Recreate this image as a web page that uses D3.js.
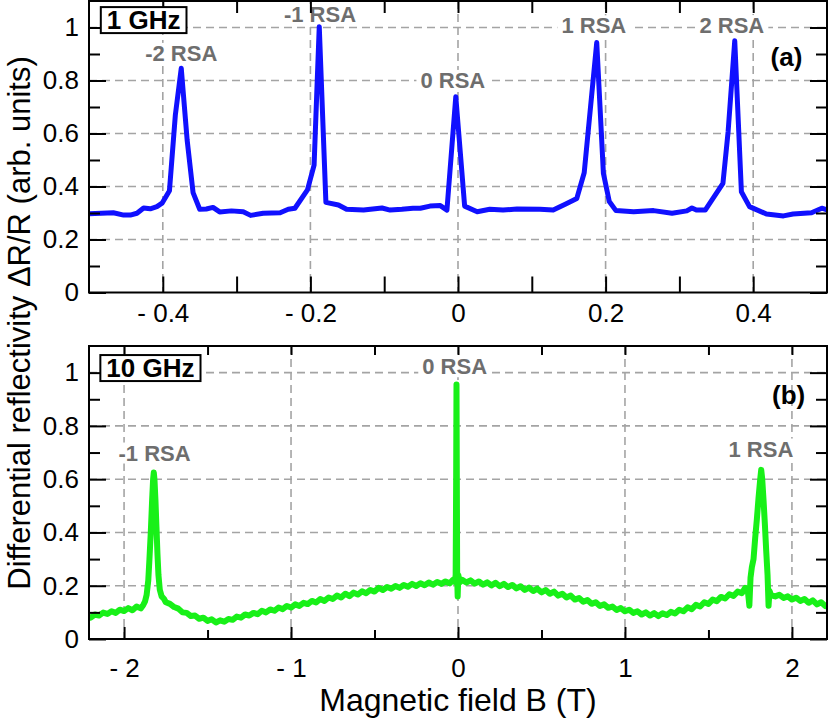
<!DOCTYPE html>
<html><head><meta charset="utf-8">
<script src="https://cdn.jsdelivr.net/npm/d3@7"></script>
<style>
body{margin:0;background:#fff}
svg{display:block}
text{font-family:"Liberation Sans",Arial,Helvetica,sans-serif}
</style>
</head><body>
<svg id="c" width="830" height="725"></svg>
<script>
// ---------- DATA ----------
// Panel (a): 1 GHz, field B (T) and dR/R
const topB = [-0.501,-0.467,-0.453,-0.444,-0.435,-0.426,-0.417,-0.408,-0.401,-0.391,-0.383,-0.375,-0.367,-0.359,-0.350,-0.341,-0.332,-0.323,-0.307,-0.291,-0.281,-0.264,-0.241,-0.230,-0.221,-0.204,-0.195,-0.188,-0.179,-0.162,-0.151,-0.128,-0.103,-0.092,-0.076,-0.061,-0.051,-0.038,-0.024,-0.015,-0.003,0.009,0.026,0.043,0.061,0.080,0.111,0.129,0.146,0.161,0.171,0.188,0.197,0.205,0.214,0.238,0.265,0.290,0.310,0.317,0.323,0.335,0.359,0.366,0.375,0.384,0.395,0.418,0.441,0.454,0.479,0.493,0.501];
const topR = [0.297,0.301,0.292,0.292,0.299,0.319,0.316,0.324,0.337,0.384,0.670,0.846,0.575,0.377,0.314,0.315,0.321,0.304,0.308,0.305,0.291,0.299,0.301,0.314,0.318,0.387,0.481,1.003,0.340,0.330,0.314,0.311,0.319,0.311,0.314,0.318,0.318,0.326,0.328,0.311,0.739,0.326,0.305,0.314,0.311,0.315,0.314,0.311,0.334,0.355,0.452,0.943,0.450,0.343,0.309,0.305,0.309,0.299,0.308,0.319,0.311,0.311,0.412,0.607,0.950,0.380,0.324,0.296,0.289,0.296,0.301,0.318,0.311];

// Panel (b): 10 GHz
const botB = [-2.200,-2.175,-2.150,-2.125,-2.100,-2.075,-2.050,-2.025,-2.000,-1.975,-1.950,-1.925,-1.900,-1.885,-1.875,-1.865,-1.855,-1.848,-1.840,-1.832,-1.826,-1.822,-1.818,-1.812,-1.806,-1.800,-1.794,-1.786,-1.775,-1.760,-1.750,-1.725,-1.700,-1.675,-1.650,-1.625,-1.600,-1.575,-1.550,-1.525,-1.500,-1.475,-1.450,-1.425,-1.400,-1.375,-1.350,-1.325,-1.300,-1.275,-1.250,-1.225,-1.200,-1.175,-1.150,-1.125,-1.100,-1.075,-1.050,-1.025,-1.000,-0.975,-0.950,-0.925,-0.900,-0.875,-0.850,-0.825,-0.800,-0.775,-0.750,-0.725,-0.700,-0.675,-0.650,-0.625,-0.600,-0.575,-0.550,-0.525,-0.500,-0.475,-0.450,-0.425,-0.400,-0.375,-0.350,-0.325,-0.300,-0.275,-0.250,-0.225,-0.200,-0.175,-0.150,-0.125,-0.100,-0.075,-0.050,-0.030,-0.020,-0.014,-0.011,-0.009,-0.007,-0.005,-0.002,0.002,0.010,0.025,0.050,0.075,0.100,0.125,0.150,0.175,0.200,0.225,0.250,0.275,0.300,0.325,0.350,0.375,0.400,0.425,0.450,0.475,0.500,0.525,0.550,0.575,0.600,0.625,0.650,0.675,0.700,0.725,0.750,0.775,0.800,0.825,0.850,0.875,0.900,0.925,0.950,0.975,1.000,1.025,1.050,1.075,1.100,1.125,1.150,1.175,1.200,1.225,1.250,1.275,1.300,1.325,1.350,1.375,1.400,1.425,1.450,1.475,1.500,1.525,1.550,1.575,1.600,1.625,1.650,1.675,1.700,1.720,1.735,1.745,1.752,1.760,1.770,1.780,1.790,1.800,1.810,1.816,1.822,1.830,1.838,1.846,1.854,1.860,1.866,1.875,1.900,1.925,1.950,1.975,2.000,2.025,2.050,2.075,2.100,2.125,2.150,2.175,2.200];
const botR = [0.080,0.092,0.088,0.099,0.094,0.104,0.098,0.110,0.105,0.116,0.108,0.122,0.115,0.128,0.140,0.165,0.220,0.300,0.400,0.520,0.600,0.625,0.600,0.520,0.420,0.320,0.240,0.185,0.160,0.150,0.138,0.132,0.120,0.114,0.100,0.098,0.086,0.088,0.076,0.080,0.068,0.074,0.062,0.070,0.065,0.075,0.072,0.084,0.080,0.092,0.088,0.098,0.093,0.106,0.100,0.111,0.106,0.118,0.112,0.124,0.118,0.130,0.124,0.136,0.131,0.143,0.137,0.150,0.143,0.156,0.150,0.163,0.156,0.170,0.161,0.174,0.167,0.179,0.172,0.184,0.178,0.192,0.184,0.195,0.189,0.199,0.192,0.203,0.196,0.207,0.199,0.209,0.202,0.212,0.204,0.214,0.207,0.216,0.209,0.222,0.215,0.240,0.600,0.955,0.600,0.230,0.160,0.240,0.212,0.222,0.212,0.220,0.208,0.216,0.204,0.213,0.201,0.211,0.198,0.207,0.195,0.203,0.190,0.198,0.184,0.193,0.180,0.189,0.175,0.184,0.170,0.178,0.163,0.170,0.156,0.163,0.148,0.154,0.140,0.146,0.132,0.138,0.124,0.130,0.117,0.122,0.109,0.116,0.104,0.110,0.098,0.104,0.092,0.100,0.088,0.097,0.086,0.097,0.090,0.102,0.096,0.110,0.104,0.119,0.112,0.128,0.122,0.138,0.132,0.148,0.142,0.158,0.152,0.168,0.162,0.178,0.172,0.192,0.186,0.125,0.230,0.270,0.300,0.380,0.450,0.530,0.600,0.635,0.600,0.520,0.430,0.330,0.240,0.125,0.180,0.165,0.160,0.166,0.154,0.160,0.148,0.155,0.143,0.150,0.136,0.145,0.130,0.138,0.124];

// Ticks
const yTicks = [0, 0.2, 0.4, 0.6, 0.8, 1];
const yTickLabels = ["0", "0.2", "0.4", "0.6", "0.8", "1"];
const yMinor = [0.1, 0.3, 0.5, 0.7, 0.9];
const topXTicks = [-0.4, -0.2, 0, 0.2, 0.4];
const topXTickLabels = ["- 0.4", "- 0.2", "0", "0.2", "0.4"];
const topXMinor = [-0.3, -0.1, 0.1, 0.3];
const botXTicks = [-2, -1, 0, 1, 2];
const botXTickLabels = ["- 2", "- 1", "0", "1", "2"];
const botXMinor = [-1.5, -0.5, 0.5, 1.5];

// Annotations (data coordinates: field, level)
const topAnnText = ["-2 RSA", "-1 RSA", "0 RSA", "1 RSA", "2 RSA"];
const topAnnB = [-0.375, -0.187, -0.007, 0.184, 0.371];
const topAnnV = [0.874, 1.021, 0.772, 0.978, 0.979];
const botAnnText = ["-1 RSA", "0 RSA", "1 RSA"];
const botAnnB = [-1.817, -0.02, 1.814];
const botAnnV = [0.670, 0.994, 0.685];

// ---------- DRAW ----------
const svg = d3.select("#c");
const L = 89, R = 827;
const gridColor = "#a4a4a4";
const annColor = "#6e6e6e";

function panel(cfg) {
  const x = d3.scaleLinear().domain(cfg.xd).range([L, R]);
  const y = d3.scaleLinear().domain([0, 1.1]).range([cfg.bottom, cfg.top]);
  const g = svg.append("g");
  const id = "clip" + cfg.name;
  svg.append("clipPath").attr("id", id).append("rect")
    .attr("x", L).attr("y", cfg.top).attr("width", R - L).attr("height", cfg.bottom - cfg.top);

  // grid
  const grid = g.append("g").attr("stroke", gridColor).attr("stroke-width", 1.6).attr("stroke-dasharray", "8,5");
  grid.selectAll(".gx").data(cfg.xt).join("line")
    .attr("x1", d => x(d)).attr("x2", d => x(d)).attr("y1", cfg.top).attr("y2", cfg.bottom);
  grid.selectAll(".gy").data(yTicks.filter(d => d > 0)).join("line")
    .attr("x1", L).attr("x2", R).attr("y1", d => y(d)).attr("y2", d => y(d));

  // annotations with white backgrounds (drawn over the grid)
  const ann = g.append("g");
  cfg.annText.forEach((t, i) => {
    const tx = ann.append("text").attr("x", x(cfg.annB[i])).attr("y", y(cfg.annV[i]))
      .attr("text-anchor", "middle").attr("font-weight", "bold").attr("font-size", 22)
      .attr("fill", annColor).text(t);
    const bb = tx.node().getBBox();
    ann.insert("rect", "text").attr("x", bb.x - 4).attr("y", bb.y + 2).attr("width", bb.width + 8).attr("height", bb.height - 4).attr("fill", "#fff");
  });

  // data line
  const line = d3.line().x(d => x(d[0])).y(d => y(d[1]));
  g.append("path").datum(d3.zip(cfg.b, cfg.r)).attr("clip-path", `url(#${id})`)
    .attr("d", line).attr("fill", "none").attr("stroke", cfg.color)
    .attr("stroke-width", cfg.sw).attr("stroke-linejoin", "round").attr("stroke-linecap", "round");

  // axes
  const tickStyle = s => {
    s.select(".domain").remove();
    s.selectAll(".tick line").attr("stroke", "#000").attr("stroke-width", 2);
    s.selectAll("text").attr("font-size", 26).attr("fill", "#000")
      .attr("font-family", '"Liberation Sans",Arial,Helvetica,sans-serif');
    s.attr("font-family", null).attr("font-size", null);
  };
  g.append("g").attr("transform", `translate(0,${cfg.bottom})`)
    .call(d3.axisBottom(x).tickValues(cfg.xt).tickFormat((d, i) => cfg.xl[i])
      .tickSizeInner(-cfg.xMaj).tickSizeOuter(0).tickPadding(cfg.xPad)).call(tickStyle);
  g.append("g").attr("transform", `translate(0,${cfg.bottom})`)
    .call(d3.axisBottom(x).tickValues(cfg.xm).tickFormat("").tickSizeInner(-cfg.xMin).tickSizeOuter(0)).call(tickStyle);
  g.append("g").attr("transform", `translate(0,${cfg.top})`)
    .call(d3.axisTop(x).tickValues(cfg.xt).tickFormat("").tickSizeInner(-cfg.xMajT).tickSizeOuter(0)).call(tickStyle);
  g.append("g").attr("transform", `translate(0,${cfg.top})`)
    .call(d3.axisTop(x).tickValues(cfg.xm).tickFormat("").tickSizeInner(-cfg.xMinT).tickSizeOuter(0)).call(tickStyle);
  g.append("g").attr("transform", `translate(${L},0)`)
    .call(d3.axisLeft(y).tickValues(yTicks).tickFormat((d, i) => yTickLabels[i])
      .tickSizeInner(-17).tickSizeOuter(0).tickPadding(10)).call(tickStyle);
  g.append("g").attr("transform", `translate(${L},0)`)
    .call(d3.axisLeft(y).tickValues(yMinor).tickFormat("").tickSizeInner(-11).tickSizeOuter(0)).call(tickStyle);
  g.append("g").attr("transform", `translate(${R},0)`)
    .call(d3.axisRight(y).tickValues(yTicks).tickFormat("").tickSizeInner(-17).tickSizeOuter(0)).call(tickStyle);
  g.append("g").attr("transform", `translate(${R},0)`)
    .call(d3.axisRight(y).tickValues(yMinor).tickFormat("").tickSizeInner(-11).tickSizeOuter(0)).call(tickStyle);

  // frame
  g.append("rect").attr("x", L).attr("y", cfg.top).attr("width", R - L).attr("height", cfg.bottom - cfg.top)
    .attr("fill", "none").attr("stroke", "#000").attr("stroke-width", 2);

  // boxed frequency label
  const bx = g.append("g");
  const bt = bx.append("text").attr("x", x(cfg.boxB) + 6).attr("y", y(cfg.boxV) + 22)
    .attr("font-size", 26).attr("font-weight", "bold").attr("fill", "#000").text(cfg.boxText);
  const bbb = bt.node().getBBox();
  bx.insert("rect", "text").attr("x", x(cfg.boxB)).attr("y", y(cfg.boxV))
    .attr("width", bbb.width + 12).attr("height", 26)
    .attr("fill", "#fff").attr("stroke", "#000").attr("stroke-width", 2);

  // panel letter
  g.append("text").attr("x", x(cfg.letB)).attr("y", y(cfg.letV)).attr("text-anchor", "middle")
    .attr("font-size", 26).attr("font-weight", "bold").attr("fill", "#000").text(cfg.letter);
}

panel({
  name: "a", xd: [-0.5, 0.5], top: 1, bottom: 292.5,
  b: topB, r: topR, color: "#1010ff", sw: 5,
  xt: topXTicks, xl: topXTickLabels, xm: topXMinor,
  xMaj: 16, xMin: 16, xMajT: 12, xMinT: 12, xPad: 11,
  annText: topAnnText, annB: topAnnB, annV: topAnnV,
  boxText: "1 GHz", boxB: -0.484, boxV: 1.077,
  letter: "(a)", letB: 0.445, letV: 0.855
});
panel({
  name: "b", xd: [-2.21, 2.21], top: 346, bottom: 639,
  b: botB, r: botR, color: "#18f018", sw: 6,
  xt: botXTicks, xl: botXTickLabels, xm: botXMinor,
  xMaj: 12, xMin: 9, xMajT: 9, xMinT: 9, xPad: 20,
  annText: botAnnText, annB: botAnnB, annV: botAnnV,
  boxText: "10 GHz", boxB: -2.142, boxV: 1.066,
  letter: "(b)", letB: 1.98, letV: 0.883
});

// axis titles
svg.append("text").attr("x", 458).attr("y", 711).attr("text-anchor", "middle")
  .attr("font-size", 32).attr("fill", "#000").text("Magnetic field B (T)");
svg.append("text").attr("transform", "translate(30,323) rotate(-90)").attr("text-anchor", "middle")
  .attr("font-size", 31).attr("fill", "#000").text("Differential reflectivity ΔR/R (arb. units)");
</script>
</body></html>
